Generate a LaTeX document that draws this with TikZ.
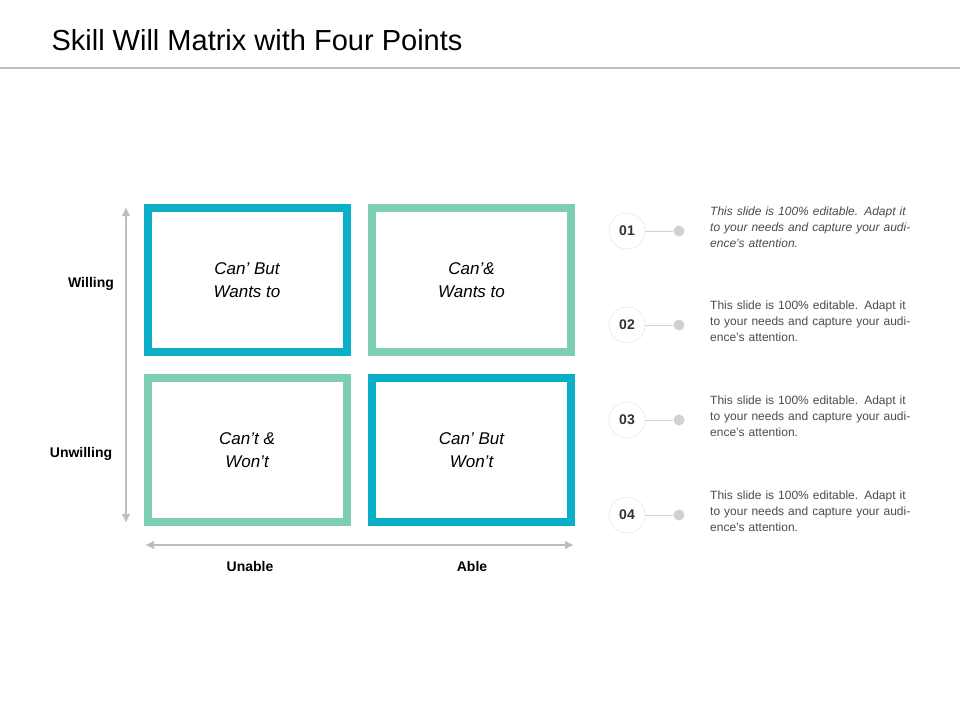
\documentclass[tikz,border=0pt]{standalone}
\usepackage{fontspec}
\setmainfont{Liberation Sans}
\usetikzlibrary{arrows.meta}
\definecolor{teal1}{HTML}{0BAFC8}
\definecolor{mint}{HTML}{7ECDB5}
\definecolor{axisg}{HTML}{BDBDBD}
\begin{document}
\begin{tikzpicture}[x=1pt,y=-1pt,
 quad/.style={draw=#1,line width=8pt,fill=white,minimum width=199pt,minimum height=144pt,inner sep=0pt,font=\itshape\fontsize{17}{23}\selectfont,align=center},
 ax/.style={axisg,line width=2.5pt,{Latex[length=9pt,width=9pt]}-{Latex[length=9pt,width=9pt]}},
 lab/.style={font=\bfseries\fontsize{14}{16}\selectfont},
 num/.style={circle,draw=black!12,fill=white,minimum size=36pt,inner sep=0pt,font=\bfseries\fontsize{14}{16}\selectfont,text=black!80},
 dot/.style={circle,fill=black!18,minimum size=11pt,inner sep=0pt},
 desc/.style={anchor=north west,align=left,text width=212pt,inner sep=0pt,text=black!70,font=\fontsize{12}{16}\selectfont}]
\useasboundingbox (0,0) rectangle (960,720);
\fill[white] (0,0) rectangle (960,720);
\node[anchor=west,font=\fontsize{29}{32}\selectfont] (title) at (48,40) {Skill Will Matrix with Four Points};
\draw[black!25,line width=1.2pt] (0,68) -- (960,68);
\node[quad=teal1] (q1) at (247,280) {Can’ But\\Wants to};
\node[quad=mint] (q2) at (471.5,280) {Can’\&\\Wants to};
\node[quad=mint] (q3) at (247,450) {Can’t \&\\Won’t};
\node[quad=teal1] (q4) at (471.5,450) {Can’ But\\Won’t};
\coordinate (vt) at (126,207); \coordinate (vb) at (126,523);
\coordinate (hl) at (145,545); \coordinate (hr) at (574,545);
\draw[ax] (vt) -- (vb);
\draw[ax] (hl) -- (hr);
\node[lab] (w) at (91,284) {Willing};
\node[lab] (uw) at (81,454) {Unwilling};
\node[lab] (ua) at (250,566) {Unable};
\node[lab] (ab) at (472,566) {Able};
\foreach \i/\y/\f in {1/231/\itshape,2/325/,3/420/,4/515/}{
  \node[num] (n\i) at (627,\y) {0\i};
  \node[dot] (d\i) at (679,\y) {};
  \draw[black!18,line width=1pt] (n\i) -- (d\i);
  \node[desc,font=\f\fontsize{12}{16}\selectfont] (t\i) at (710,\y-24) {This slide is 100\% editable. Adapt it to your needs and capture your audience's attention.};
}
\end{tikzpicture}
\end{document}
